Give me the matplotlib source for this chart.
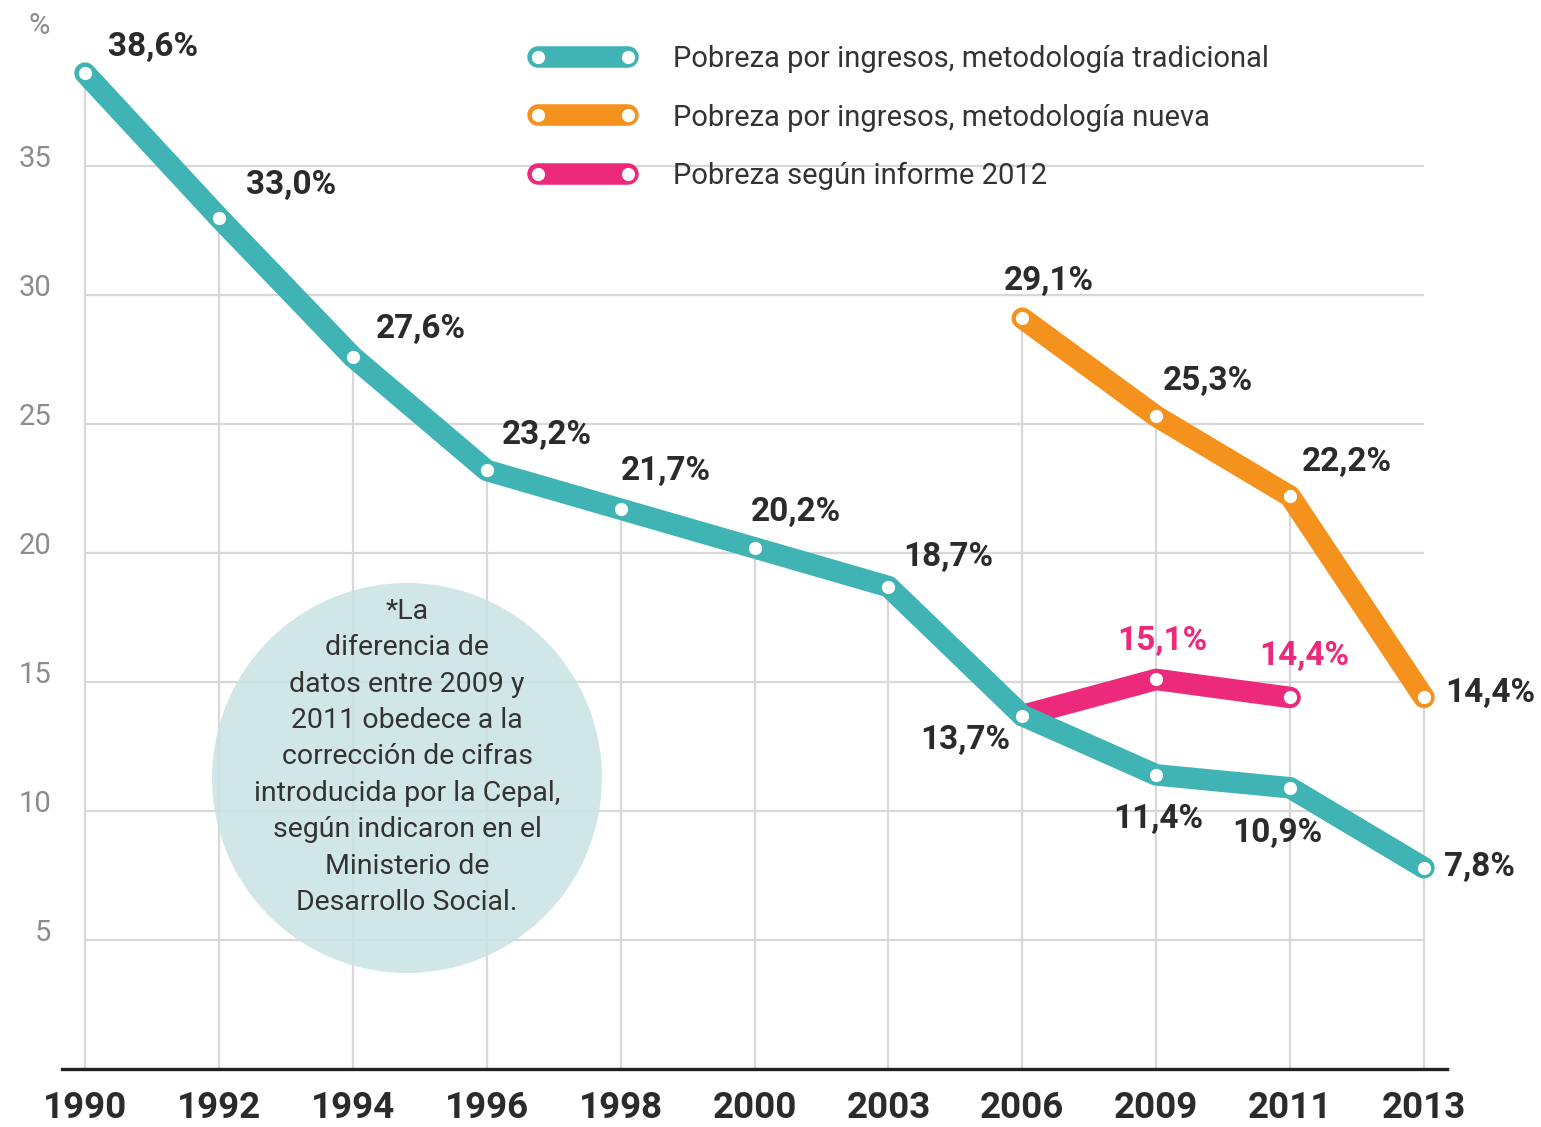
import matplotlib
matplotlib.use("Agg")
import matplotlib.pyplot as plt
from matplotlib.patches import Ellipse
from matplotlib.transforms import ScaledTranslation
import numpy as np

# ---------------- data ----------------
years = ["1990", "1992", "1994", "1996", "1998", "2000", "2003", "2006", "2009", "2011", "2013"]
trad_vals = [38.6, 33.0, 27.6, 23.2, 21.7, 20.2, 18.7, 13.7, 11.4, 10.9, 7.8]
nueva_years = ["2006", "2009", "2011", "2013"]
nueva_vals = [29.1, 25.3, 22.2, 14.4]
inf2012_years = ["2006", "2009", "2011"]
inf2012_vals = [13.7, 15.1, 14.4]
yticks = [5, 10, 15, 20, 25, 30, 35]
legend_labels = ["Pobreza por ingresos, metodología tradicional",
                 "Pobreza por ingresos, metodología nueva",
                 "Pobreza según informe 2012"]
note_text = ("*La\ndiferencia de\ndatos entre 2009 y\n2011 obedece a la\ncorrección de cifras\n"
             "introducida por la Cepal,\nsegún indicaron en el\nMinisterio de\nDesarrollo Social.")

# ---------------- style ----------------
TEAL = "#40b4b4"
ORANGE = "#f5921e"
PINK = "#ec297b"
GRID = "#d8d8d8"
TXT = "#2b2b2b"
FONT = ["Roboto", "DejaVu Sans"]
plt.rcParams["font.family"] = FONT

W, H = 1541, 1127
fig = plt.figure(figsize=(W / 100, H / 100), dpi=100)
ax = fig.add_axes([62 / W, 58 / H, 1385 / W, 1069 / H])

xi = {y: i for i, y in enumerate(years)}
x_trad = [xi[y] for y in years]
x_nueva = [xi[y] for y in nueva_years]
x_inf = [xi[y] for y in inf2012_years]

ax.set_xlim(-0.172, 10.172)
ax.set_ylim(0, 1069 / 25.8)

# grid: horizontal lines and vertical lines from top value down
ax.hlines(yticks, 0, len(years) - 1, color=GRID, lw=1.6, zorder=1)
tops = {}
for xs, vs in [(x_trad, trad_vals), (x_nueva, nueva_vals), (x_inf, inf2012_vals)]:
    for x, v in zip(xs, vs):
        tops[x] = max(tops.get(x, 0), v)
ax.vlines(list(tops.keys()), 0, list(tops.values()), color=GRID, lw=1.6, zorder=1)

# note circle
circ = Ellipse((407 / W, 1 - 778 / H), 390 / W, 390 / H, transform=fig.transFigure,
               facecolor="#c9e3e3", edgecolor="none", alpha=0.85, zorder=1.5)
ax.add_patch(circ)
ax.text(407 / W, 1 - 757 / H, note_text, transform=fig.transFigure, ha="center", va="center",
        fontsize=20.5, color="#333333", linespacing=1.45, zorder=2)

lw = 15.5
ms = 9.5
common = dict(lw=lw, solid_capstyle="round", solid_joinstyle="round", marker="o",
              markersize=ms, markerfacecolor="white", markeredgewidth=0)
l_inf, = ax.plot(x_inf, inf2012_vals, color=PINK, zorder=3, label=legend_labels[2], **common)
l_nueva, = ax.plot(x_nueva, nueva_vals, color=ORANGE, zorder=4, label=legend_labels[1], **common)
l_trad, = ax.plot(x_trad, trad_vals, color=TEAL, zorder=5, label=legend_labels[0], **common)


def fmt(v):
    return f"{v:.1f}".replace(".", ",") + "%"


# label offsets in pixels (dx, dy, ha)
trad_off = [(23, 26, "left"), (27, 33, "left"), (23, 28, "left"), (15, 35, "left"),
            (0, 38, "left"), (-4, 36, "left"), (15, 30, "left"), (-12, -24, "right"),
            (2, -44, "center"), (-13, -45, "center"), (20, 1, "left")]
nueva_off = [(27, 37, "center"), (7, 35, "left"), (12, 34, "left"), (21, 4, "left")]
inf_off = [None, (6, 38, "center"), (14, 41, "center")]

for xs, vs, offs, col in [(x_trad, trad_vals, trad_off, TXT),
                          (x_nueva, nueva_vals, nueva_off, TXT),
                          (x_inf, inf2012_vals, inf_off, PINK)]:
    for x, v, o in zip(xs, vs, offs):
        if o is None:
            continue
        ax.annotate(fmt(v), (x, v), xytext=(o[0], o[1]), textcoords="offset pixels",
                    ha=o[2], va="center", fontsize=24, fontweight="bold", color=col,
                    zorder=6, annotation_clip=False)

# axes styling
for s in ["top", "right", "left"]:
    ax.spines[s].set_visible(False)
ax.spines["bottom"].set_color("#222222")
ax.spines["bottom"].set_linewidth(2.4)
ax.spines["bottom"].set_zorder(2)

ax.set_xticks(x_trad)
ax.set_xticklabels(years, fontsize=26.5, fontweight="bold", color=TXT)
ax.tick_params(axis="x", length=0, pad=15)

ax.set_yticks(yticks)
ax.set_yticklabels([str(t) for t in yticks], fontsize=21, color="#8c8c8c")
ax.tick_params(axis="y", length=0, pad=8)
off = ScaledTranslation(0, 10 / 100, fig.dpi_scale_trans)
for lab in ax.get_yticklabels():
    lab.set_transform(lab.get_transform() + off)

fig.text(50 / W, 1 - 26 / H, "%", ha="right", va="center", fontsize=21, color="#8c8c8c")

# legend
leg = ax.legend(handles=[l_trad, l_nueva, l_inf], loc="upper left",
                bbox_to_anchor=(529 / W, 1 - 45 / H), bbox_transform=fig.transFigure,
                frameon=False, numpoints=2, handlelength=3.68, handletextpad=1.25,
                labelspacing=1.05, borderpad=0, borderaxespad=0, fontsize=21)
for t in leg.get_texts():
    t.set_color("#333333")

fig.savefig("out.png", dpi=100)
